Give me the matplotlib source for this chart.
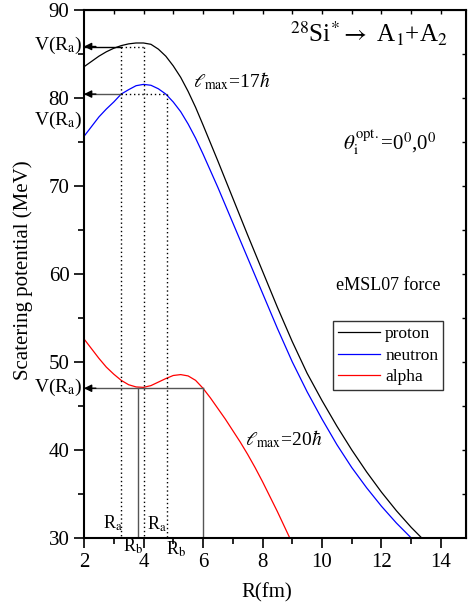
import matplotlib
matplotlib.use("Agg")
import matplotlib.pyplot as plt

plt.rcParams['font.family'] = ['Liberation Serif', 'DejaVu Serif']
plt.rcParams['mathtext.fontset'] = 'stix'

# Proton potential (MeV) vs R (fm)
r_p = [2.0, 2.25, 2.5, 2.75, 3.0, 3.25, 3.5, 3.75, 4.0, 4.25, 4.5, 4.75, 5.0, 5.25,
       5.5, 5.75, 6.0, 6.5, 7.0, 7.5, 8.0, 8.5, 9.0, 9.5, 10.0, 10.5, 11.0, 11.5,
       12.0, 12.5, 13.0, 13.5]
v_p = [83.5, 84.1, 84.7, 85.2, 85.6, 85.9, 86.1, 86.2, 86.2, 86.05, 85.5, 84.7, 83.6, 82.3,
       80.7, 78.9, 76.9, 72.8, 68.6, 64.4, 60.3, 56.2, 52.3, 48.7, 45.6, 42.7, 40.0, 37.5,
       35.2, 33.1, 31.2, 29.5]

# Neutron potential
r_n = [2.0, 2.25, 2.5, 2.75, 3.0, 3.25, 3.5, 3.75, 4.0, 4.25, 4.5, 4.75, 5.0, 5.25,
       5.5, 5.75, 6.0, 6.5, 7.0, 7.5, 8.0, 8.5, 9.0, 9.5, 10.0, 10.5, 11.0, 11.5,
       12.0, 12.5, 13.0]
v_n = [75.6, 76.7, 77.8, 78.7, 79.5, 80.4, 80.9, 81.35, 81.5, 81.4, 81.0, 80.4, 79.5, 78.4,
       77.0, 75.4, 73.6, 69.8, 65.8, 61.8, 57.8, 53.8, 50.0, 46.6, 43.5, 40.6, 38.0, 35.7,
       33.6, 31.7, 30.0]

# Alpha potential
r_al = [2.0, 2.25, 2.5, 2.75, 3.0, 3.25, 3.5, 3.75, 4.0, 4.25, 4.5, 4.75, 5.0, 5.25,
        5.5, 5.75, 6.0, 6.25, 6.5, 6.75, 7.0, 7.25, 7.5, 7.75, 8.0, 8.25, 8.5, 8.75, 9.0]
v_al = [52.6, 51.5, 50.4, 49.4, 48.6, 47.9, 47.4, 47.15, 47.1, 47.3, 47.7, 48.1, 48.45, 48.55,
        48.4, 47.9, 47.0, 45.9, 44.7, 43.5, 42.2, 40.9, 39.5, 38.0, 36.4, 34.7, 33.0, 31.2, 29.4]

# Turning points / barrier levels
ra_p, rb_p, vra_p = 3.24, 4.02, 85.8
ra_n, rb_n, vra_n = 3.24, 4.78, 80.4
ra_al, rb_al, vra_al = 3.80, 6.0, 47.0

fig = plt.figure(figsize=(4.68, 6.14), dpi=100)
ax = fig.add_axes([0.1795, 0.1238, 0.8162, 0.8607])

ax.plot(r_p, v_p, color='black', lw=0.9, label='proton')
ax.plot(r_n, v_n, color='blue', lw=0.9, label='neutron')
ax.plot(r_al, v_al, color='red', lw=0.9, label='alpha')

dot = (0, (1, 2))
grey = '#555555'
# proton level
ax.plot([2, ra_p], [vra_p, vra_p], color='black', lw=1)
ax.plot([ra_p, rb_p], [vra_p, vra_p], color='black', lw=1, ls=dot)
# neutron level
ax.plot([2, ra_n], [vra_n, vra_n], color=grey, lw=1)
ax.plot([ra_n, rb_n], [vra_n, vra_n], color='black', lw=1, ls=dot)
# verticals
ax.plot([ra_p, ra_p], [vra_p, 30], color='black', lw=1, ls=dot)
ax.plot([rb_p, rb_p], [vra_p, 30], color='black', lw=1, ls=dot)
ax.plot([rb_n, rb_n], [vra_n, 30], color='black', lw=1, ls=dot)
# alpha level
ax.plot([2, rb_al], [vra_al, vra_al], color=grey, lw=1)
ax.plot([ra_al, ra_al], [vra_al, 30], color=grey, lw=1)
ax.plot([rb_al, rb_al], [vra_al, 30], color=grey, lw=1)

for v in [vra_p, vra_n, vra_al]:
    ax.annotate('', xy=(2.0, v), xytext=(2.4, v),
                arrowprops=dict(arrowstyle='-|>', color='black', lw=1,
                                mutation_scale=11, shrinkA=0, shrinkB=0))

# V(Ra) labels outside the axes
for v in [85.4, 76.9, 46.6]:
    ax.text(1.94, v, r'V(R$_{\rm a}$)', fontsize=14, ha='right', va='baseline', clip_on=False)

# Ra / Rb labels
ax.text(2.64, 31.1, r'R$_{\rm a}$', fontsize=13, va='baseline')
ax.text(3.31, 28.4, r'R$_{\rm b}$', fontsize=13, va='baseline', clip_on=False)
ax.text(4.12, 30.9, r'R$_{\rm a}$', fontsize=13, va='baseline')
ax.text(4.76, 28.1, r'R$_{\rm b}$', fontsize=13, va='baseline', clip_on=False)

ax.text(8.92, 86.3, r'$^{28}$Si$^{*}$$\rightarrow$ A$_1$+A$_2$', fontsize=18, va='baseline')
ax.text(5.66, 81.2, r'$\ell_{\rm max}$=17$\hbar$', fontsize=14, va='baseline')
ax.text(7.41, 40.5, r'$\ell_{\rm max}$=20$\hbar$', fontsize=14, va='baseline')
ax.text(10.7, 74.1, r'$\theta_{\rm i}^{\rm opt.}$=0$^0$,0$^0$', fontsize=15, va='baseline')
ax.text(10.47, 58.1, 'eMSL07 force', fontsize=13, va='baseline')

leg = ax.legend(loc='upper left', bbox_to_anchor=(0.652, 0.4106), fontsize=12.5,
                frameon=True, fancybox=False, borderaxespad=0, handlelength=2.4,
                handletextpad=0.3, labelspacing=0.3, borderpad=0.3)
leg.get_frame().set_edgecolor('black')
leg.get_frame().set_linewidth(1)

ax.set_xlim(2, 14.84)
ax.set_ylim(30, 90)
ax.set_xticks([2, 4, 6, 8, 10, 12, 14])
ax.set_xticks([3, 5, 7, 9, 11, 13], minor=True)
ax.set_yticks([30, 40, 50, 60, 70, 80, 90])
ax.set_yticks([35, 45, 55, 65, 75, 85], minor=True)
ax.tick_params(which='major', direction='out', length=7, width=1.2, labelsize=15)
ax.tick_params(which='minor', direction='out', length=4, width=1.2)
for s in ax.spines.values():
    s.set_linewidth(1.5)

top = ax.secondary_xaxis('top')
top.set_xticks(range(3, 15))
top.tick_params(direction='in', length=3, width=1, labeltop=False)
right = ax.secondary_yaxis('right')
right.set_yticks(range(35, 90, 5))
right.tick_params(direction='in', length=3, width=1, labelright=False)

ax.set_xlabel('R(fm)', fontsize=15)
ax.xaxis.set_label_coords(0.479, -0.085)
ax.set_ylabel('Scatering potential (MeV)', fontsize=15)
ax.yaxis.set_label_coords(-0.133, 0.507)

plt.savefig('out.png', dpi=100)
